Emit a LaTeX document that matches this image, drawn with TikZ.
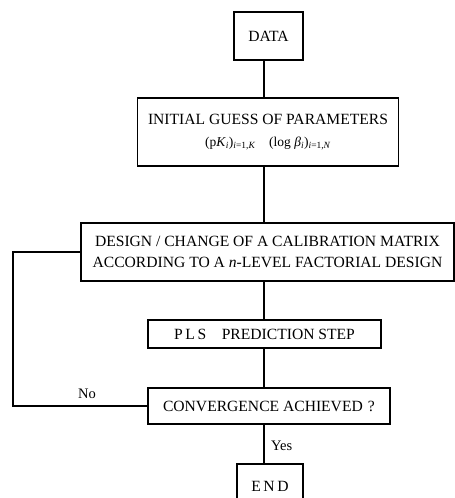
\documentclass[tikz,border=0pt]{standalone}
\usepackage{fontspec}
\setmainfont{Liberation Serif}
\begin{document}
\begin{tikzpicture}[x=1pt,y=-1pt,
  box/.style={draw,line width=1.2pt,inner sep=0pt,align=center,font=\fontsize{15.6}{21}\selectfont},
  conn/.style={line width=1.2pt},
  lbl/.style={font=\fontsize{14.5}{16}\selectfont,inner sep=1pt}]
\useasboundingbox (0,0) rectangle (455,498);
\node[box,minimum width=69pt,minimum height=48pt] (data) at (268.5,36) {DATA};
\node[box,minimum width=261pt,minimum height=68pt] (init) at (268,132)
  {INITIAL GUESS OF PARAMETERS\\[1pt]
   {\fontsize{13.5}{15}\selectfont (p\textit{K}\textsubscript{\textit{i}})\textsubscript{\textit{i}=1,\textit{K}}\quad
   (log \textit{β}\textsubscript{\textit{i}})\textsubscript{\textit{i}=1,\textit{N}}}};
\node[box,minimum width=373pt,minimum height=58pt] (design) at (267.5,252)
  {DESIGN / CHANGE OF A CALIBRATION MATRIX\\
   ACCORDING TO A \textit{n}-LEVEL FACTORIAL DESIGN};
\node[box,minimum width=233pt,minimum height=28pt] (pls) at (264.5,334)
  {P\,L\,S\quad PREDICTION STEP};
\node[box,minimum width=242pt,minimum height=36pt] (conv) at (269,406)
  {CONVERGENCE ACHIEVED\,\,?};
\node[box,minimum width=66pt,minimum height=44pt] (end) at (270,486)
  {E\,N\,D};
\coordinate (t) at (264,0);
\coordinate (loop) at (13,330);
\draw[conn] (t |- data.south) -- (t |- init.north);
\draw[conn] (t |- init.south) -- (t |- design.north);
\draw[conn] (t |- design.south) -- (t |- pls.north);
\draw[conn] (t |- pls.south) -- (t |- conv.north);
\draw[conn] (t |- conv.south) -- (t |- end.north);
\draw[conn] (conv.west) -| (loop) |- (design.west);
\node[lbl,anchor=south] (no) at (87,400) {No};
\node[lbl,anchor=west] (yes) at (270,446) {Yes};
\end{tikzpicture}
\end{document}
